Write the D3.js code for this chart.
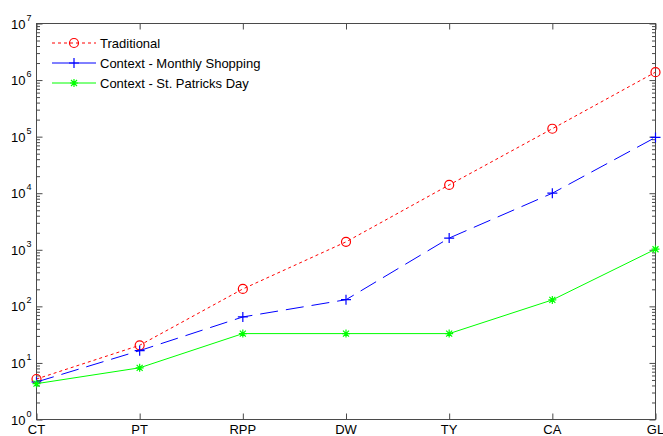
<!DOCTYPE html>
<html>
<head>
<meta charset="utf-8">
<script src="https://cdn.jsdelivr.net/npm/d3@7"></script>
<style>
  body { margin: 0; background: #fff; }
  svg { font-family: "Liberation Sans", Arial, sans-serif; }
</style>
</head>
<body>
<script>
// data
var categories = ['CT', 'PT', 'RPP', 'DW', 'TY', 'CA', 'GL'];
var traditional = [5.2, 20.5, 203, 1380, 14000, 138000, 1380000];
var monthly = [4.6, 16.5, 65, 131, 1610, 10000, 97000];
var stpatricks = [4.3, 8.2, 33, 33, 33, 130, 1024];
var seriesNames = ['Traditional', 'Context - Monthly Shopping', 'Context - St. Patricks Day'];
var decades = [1, 10, 100, 1e3, 1e4, 1e5, 1e6, 1e7];

var width = 663, height = 436;
var pLeft = 36.5, pRight = 655.5, pTop = 23.5, pBottom = 419.5;

var svg = d3.select('body').append('svg')
  .attr('width', width)
  .attr('height', height);

var x = d3.scalePoint().domain(categories).range([pLeft, pRight]);
var y = d3.scaleLog().domain([1, 1e7]).range([pBottom, pTop]);

var minors = [];
decades.slice(0, -1).forEach(d => {
  for (var k = 2; k < 10; k++) minors.push(d * k);
});

var axisColor = '#4a4a4a';

// box
svg.append('rect')
  .attr('x', pLeft).attr('y', pTop)
  .attr('width', pRight - pLeft).attr('height', pBottom - pTop)
  .attr('fill', 'none').attr('stroke', axisColor);

function styleAxis(g) {
  g.select('.domain').remove();
  g.selectAll('line').attr('stroke', axisColor);
  g.selectAll('text').remove();
}

// y axes (ticks inward)
svg.append('g').attr('transform', `translate(${pLeft},0)`)
  .call(d3.axisLeft(y).tickValues(decades).tickSize(-6).tickFormat(''))
  .call(styleAxis);
svg.append('g').attr('transform', `translate(${pLeft},0)`)
  .call(d3.axisLeft(y).tickValues(minors).tickSize(-3.5).tickFormat(''))
  .call(styleAxis);
svg.append('g').attr('transform', `translate(${pRight},0)`)
  .call(d3.axisRight(y).tickValues(decades).tickSize(-6).tickFormat(''))
  .call(styleAxis);
svg.append('g').attr('transform', `translate(${pRight},0)`)
  .call(d3.axisRight(y).tickValues(minors).tickSize(-3.5).tickFormat(''))
  .call(styleAxis);

// x axes
svg.append('g').attr('transform', `translate(0,${pBottom})`)
  .call(d3.axisBottom(x).tickSize(-6))
  .call(styleAxis);
svg.append('g').attr('transform', `translate(0,${pTop})`)
  .call(d3.axisTop(x).tickSize(-6))
  .call(styleAxis);

// x labels (reference has them running off the bottom edge)
svg.append('g').selectAll('text')
  .data(categories)
  .join('text')
    .attr('x', d => x(d))
    .attr('y', pBottom + 14.5)
    .attr('text-anchor', 'middle')
    .attr('font-size', 13)
    .attr('fill', '#000')
    .text(d => d);

// y labels 10^n
svg.append('g').selectAll('text')
  .data(decades)
  .join('text')
    .attr('x', 25.5)
    .attr('y', d => y(d) + 5)
    .attr('text-anchor', 'end')
    .attr('font-size', 13)
    .attr('fill', '#000')
    .text('10');
svg.append('g').selectAll('text')
  .data(decades)
  .join('text')
    .attr('x', 26.5)
    .attr('y', d => y(d) - 3)
    .attr('font-size', 9)
    .attr('fill', '#000')
    .text(d => Math.round(Math.log10(d)));

var series = [
  { name: seriesNames[0], values: traditional, color: '#ff0000', dash: '3,3', marker: 'circle' },
  { name: seriesNames[1], values: monthly, color: '#0000ff', dash: '18,8', marker: 'plus' },
  { name: seriesNames[2], values: stpatricks, color: '#00ff00', dash: null, marker: 'star' }
];

var line = d3.line()
  .x((d, i) => x(categories[i]))
  .y(d => y(d));

function drawMarker(g, type, color) {
  if (type === 'circle') {
    g.append('circle').attr('r', 4.5)
      .attr('fill', 'none').attr('stroke', color).attr('stroke-width', 1.2);
  } else if (type === 'plus') {
    g.append('path').attr('d', 'M-5,0H5M0,-5V5')
      .attr('stroke', color).attr('stroke-width', 1.2);
  } else {
    g.append('path').attr('d', 'M-4,0H4M0,-4V4M-3,-3L3,3M-3,3L3,-3')
      .attr('stroke', color).attr('stroke-width', 1.2);
  }
}

series.forEach(s => {
  svg.append('path')
    .datum(s.values)
    .attr('d', line)
    .attr('fill', 'none')
    .attr('stroke', s.color)
    .attr('stroke-width', 1)
    .attr('stroke-dasharray', s.dash);
  s.values.forEach((v, i) => {
    var g = svg.append('g').attr('transform', `translate(${x(categories[i])},${y(v)})`);
    drawMarker(g, s.marker, s.color);
  });
});

// legend
var legend = svg.append('g');
series.forEach((s, i) => {
  var ly = 43 + i * 20;
  legend.append('line')
    .attr('x1', 52).attr('x2', 96)
    .attr('y1', ly).attr('y2', ly)
    .attr('stroke', s.color)
    .attr('stroke-width', 1)
    .attr('stroke-dasharray', s.marker === 'circle' ? '3,3' : null);
  var g = legend.append('g').attr('transform', `translate(74,${ly})`);
  drawMarker(g, s.marker, s.color);
  legend.append('text')
    .attr('x', 100)
    .attr('y', ly + 4.5)
    .attr('font-size', 13)
    .attr('fill', '#000')
    .text(s.name);
});
</script>
</body>
</html>
